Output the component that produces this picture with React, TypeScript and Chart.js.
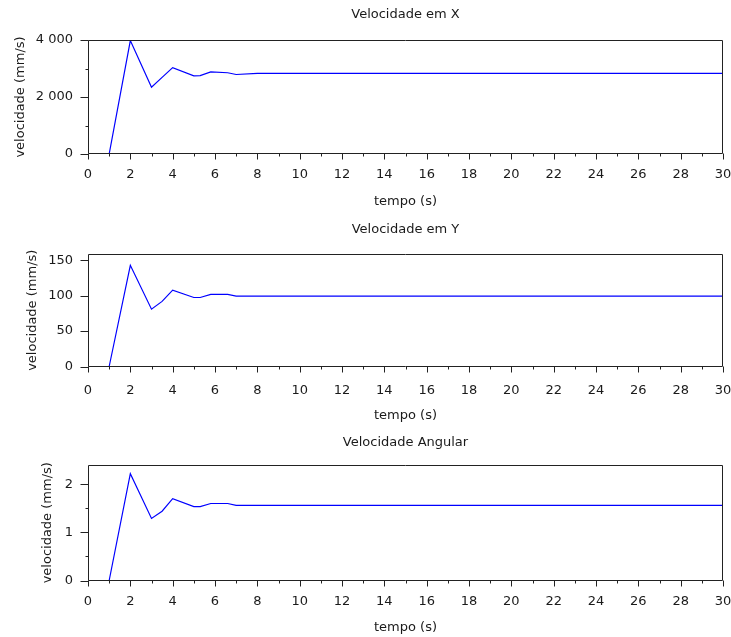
import React, { useEffect, useRef } from 'react';
import { Chart, registerables } from 'chart.js';

Chart.register(...registerables);

// ---- data ----
const tempo = [1, 2, 3, 3.5, 4, 5, 5.3, 5.8, 6.6, 7, 8, 30];
const velX = [0, 3980, 2340, 2690, 3030, 2740, 2750, 2880, 2850, 2790, 2830, 2830];
const velY = [0, 143, 81, 92, 108, 97.5, 97.5, 101.8, 101.8, 99.4, 99.4, 99.4];
const velAng = [0, 2.22, 1.29, 1.44, 1.7, 1.535, 1.535, 1.6, 1.6, 1.56, 1.56, 1.56];

const xMajorTicks = [0, 2, 4, 6, 8, 10, 12, 14, 16, 18, 20, 22, 24, 26, 28, 30];
const xMinorTicks = [1, 3, 5, 7, 9, 11, 13, 15, 17, 19, 21, 23, 25, 27, 29];

const yMajorX = [0, 2000, 4000];
const yMinorX = [1000, 3000];
const yMajorY = [0, 50, 100, 150];
const yMinorY: number[] = [];
const yMajorAng = [0, 1, 2];
const yMinorAng = [0.5, 1.5];

const titles = ['Velocidade em X', 'Velocidade em Y', 'Velocidade Angular'];
const xTitle = 'tempo (s)';
const yTitle = 'velocidade (mm/s)';

const FONT = 'DejaVu Sans';
const TEXT = '#1a1a1a';

const framePlugin = {
  id: 'frame',
  afterDatasetsDraw(chart: any, _args: any, opts: any) {
    const { ctx, chartArea } = chart;
    const { left, right, top, bottom } = chartArea;
    const xs = chart.scales.x;
    const ys = chart.scales.y;
    const L = Math.round(left) + 0.5;
    const R = Math.round(right) - 0.5;
    const T = Math.round(top) + 0.5;
    const B = Math.round(bottom) - 0.5;
    ctx.save();
    ctx.strokeStyle = '#222';
    ctx.lineWidth = 1;
    ctx.beginPath();
    ctx.rect(L, T, R - L, B - T);
    for (const v of opts.xMajor) {
      const p = Math.round(xs.getPixelForValue(v)) + 0.5;
      ctx.moveTo(p, B);
      ctx.lineTo(p, B + 6);
    }
    for (const v of opts.xMinor) {
      const p = Math.round(xs.getPixelForValue(v)) + 0.5;
      ctx.moveTo(p, B);
      ctx.lineTo(p, B + 3);
    }
    for (const v of opts.yMajor) {
      const p = Math.round(ys.getPixelForValue(v)) + 0.5;
      ctx.moveTo(L, p);
      ctx.lineTo(L - 8, p);
    }
    for (const v of opts.yMinor) {
      const p = Math.round(ys.getPixelForValue(v)) + 0.5;
      ctx.moveTo(L, p);
      ctx.lineTo(L - 3, p);
    }
    ctx.stroke();
    ctx.restore();
  },
};

const fmt = (v: number) => {
  const s = String(Math.round(v * 100) / 100);
  if (Math.abs(v) >= 1000) {
    return s.replace(/\B(?=(\d{3})+(?!\d))/g, ' ');
  }
  return s;
};

type PanelProps = {
  top: number;
  height: number;
  title: string;
  values: number[];
  yMax: number;
  yMajor: number[];
  yMinor: number[];
  titleCenter: number;
  areaTop: number;
  areaBottom: number;
  xLabelPad: number;
  xTitlePad: number;
  yTitlePad: number;
};

function Panel(p: PanelProps) {
  const ref = useRef<HTMLCanvasElement | null>(null);
  useEffect(() => {
    if (!ref.current) return;
    const chart = new Chart(ref.current, {
      type: 'line',
      data: {
        datasets: [
          {
            data: tempo.map((t, i) => ({ x: t, y: p.values[i] })),
            borderColor: '#0000ff',
            borderWidth: 1.2,
            pointRadius: 0,
            tension: 0,
            fill: false,
            xAxisID: 'x',
            yAxisID: 'y',
          },
        ],
      },
      options: {
        responsive: false,
        animation: false,
        devicePixelRatio: 1,
        layout: { padding: { left: 0, right: 8, top: 0, bottom: 0 } },
        plugins: {
          legend: { display: false },
          tooltip: { enabled: false },
          title: { display: false },
          frame: {
            xMajor: xMajorTicks,
            xMinor: xMinorTicks,
            yMajor: p.yMajor,
            yMinor: p.yMinor,
          },
        } as any,
        scales: {
          x: {
            type: 'linear',
            position: 'bottom',
            min: 0,
            max: 30,
            grid: { display: false, drawTicks: false },
            border: { display: false },
            ticks: {
              autoSkip: false,
              maxRotation: 0,
              padding: p.xLabelPad,
              color: TEXT,
              font: { family: FONT, size: 13 },
              callback: (v: any) => fmt(Number(v)),
            },
            title: {
              display: true,
              text: xTitle,
              color: TEXT,
              font: { family: FONT, size: 13 },
              padding: { top: 0, bottom: p.xTitlePad },
            },
            afterBuildTicks: (s: any) => {
              s.ticks = xMajorTicks.map((v) => ({ value: v }));
            },
            afterFit: (s: any) => {
              s.height = p.height - p.areaBottom;
              s.paddingLeft = 0;
              s.paddingRight = 0;
            },
          },
          xTop: {
            type: 'linear',
            position: 'top',
            min: 0,
            max: 30,
            grid: { display: false, drawTicks: false },
            border: { display: false },
            ticks: { display: false },
            title: {
              display: true,
              text: p.title,
              color: TEXT,
              font: { family: FONT, size: 13 },
              padding: { top: p.titleCenter - 7.8, bottom: 0 },
            },
            afterFit: (s: any) => {
              s.height = p.areaTop;
              s.paddingLeft = 0;
              s.paddingRight = 0;
            },
          },
          y: {
            type: 'linear',
            min: 0,
            max: p.yMax,
            grid: { display: false, drawTicks: false },
            border: { display: false },
            ticks: {
              padding: 15,
              color: TEXT,
              font: { family: FONT, size: 13 },
              callback: (v: any) => fmt(Number(v)),
            },
            title: {
              display: true,
              text: yTitle,
              color: TEXT,
              font: { family: FONT, size: 13 },
              padding: { top: p.yTitlePad, bottom: 0 },
            },
            afterBuildTicks: (s: any) => {
              s.ticks = p.yMajor.map((v) => ({ value: v }));
            },
            afterFit: (s: any) => {
              s.width = 88;
              s.paddingTop = 0;
              s.paddingBottom = 0;
            },
          },
        },
      },
      plugins: [framePlugin],
    } as any);
    return () => chart.destroy();
  }, []);
  return (
    <div style={{ position: 'absolute', left: 0, top: p.top, width: 731, height: p.height }}>
      <canvas ref={ref} width={731} height={p.height} style={{ display: 'block', width: 731, height: p.height }} />
    </div>
  );
}

export default function App() {
  return (
    <div style={{ position: 'fixed', left: 0, top: 0, width: 731, height: 637, background: '#fff' }}>
      <Panel
        top={0}
        height={212}
        title={titles[0]}
        values={velX}
        yMax={4000}
        yMajor={yMajorX}
        yMinor={yMinorX}
        titleCenter={15}
        areaTop={40}
        areaBottom={154}
        xLabelPad={13}
        xTitlePad={2.2}
        yTitlePad={13.2}
      />
      <Panel
        top={212}
        height={212}
        title={titles[1]}
        values={velY}
        yMax={159}
        yMajor={yMajorY}
        yMinor={yMinorY}
        titleCenter={18}
        areaTop={42}
        areaBottom={154.5}
        xLabelPad={16}
        xTitlePad={0.2}
        yTitlePad={25.2}
      />
      <Panel
        top={424}
        height={213}
        title={titles[2]}
        values={velAng}
        yMax={2.4}
        yMajor={yMajorAng}
        yMinor={yMinorAng}
        titleCenter={19}
        areaTop={41}
        areaBottom={156.5}
        xLabelPad={13.7}
        xTitlePad={1.2}
        yTitlePad={40.2}
      />
    </div>
  );
}
